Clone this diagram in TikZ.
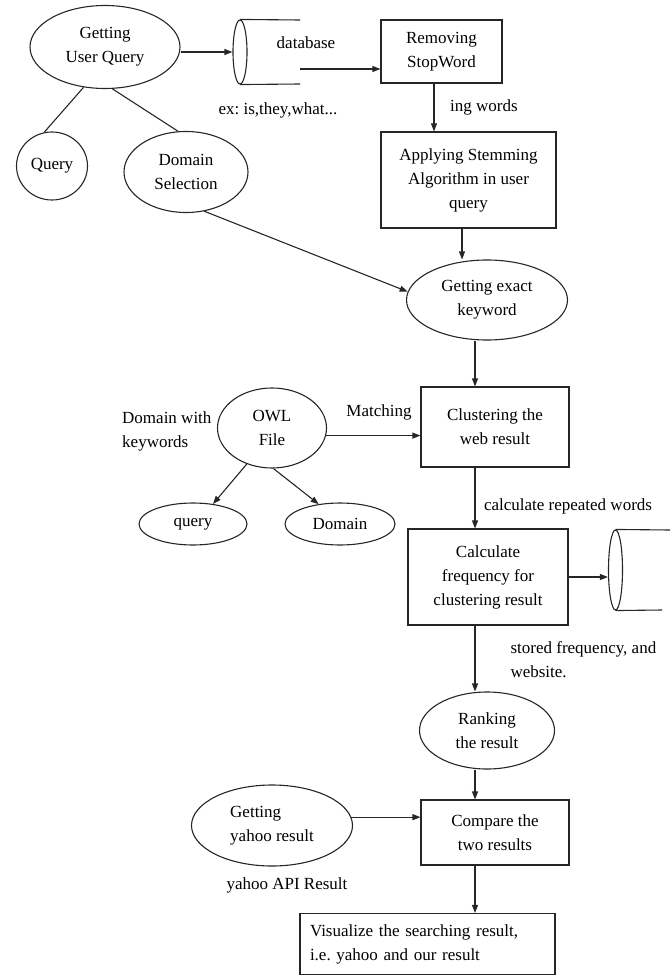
\documentclass[tikz,border=0pt]{standalone}
\usepackage{fontspec}
\setmainfont{Liberation Serif}
\usetikzlibrary{shapes.geometric,arrows.meta}
\frenchspacing
\tikzset{
  txt/.style={font=\fontsize{17}{24}\selectfont},
  ell/.style={txt, draw, ellipse, inner sep=0pt, align=center},
  box/.style={txt, draw, rectangle, inner sep=0pt, align=center},
  lbl/.style={txt, inner sep=0pt, align=left},
  arr/.style={-{Triangle[length=8pt,width=6pt]}},
}
\begin{document}
\begin{tikzpicture}[x=1pt,y=-1pt,line width=1.1pt,draw=black!85]
\useasboundingbox (0,0) rectangle (670,976);
% top row
\node[ell, minimum width=150, minimum height=83] (guq) at (105,47) {Getting\\User Query};
\node[draw, ellipse, inner sep=0pt, minimum width=14, minimum height=64] (db1) at (240,52) {};
\coordinate (db1top) at (300,20);
\coordinate (db1bot) at (300,84);
\coordinate (dbout) at (300,69);
\draw (db1.north) -- (db1top);
\draw (db1.south) -- (db1bot);
\node[lbl] (dblabel) at (306,43) {database};
\node[lbl] (exlabel) at (278,110) {ex: is,they,what...};
\node[box, minimum width=121, minimum height=63] (rsw) at (441.5,51.5) {Removing\\StopWord};
\node[lbl] (ingw) at (484,107) {ing words};
\node[box, minimum width=175, minimum height=96] (asa) at (468.5,180) {Applying Stemming\\Algorithm in user\\query};
\node[ell, minimum width=71, minimum height=68] (query1) at (52,166) {Query};
\node[ell, minimum width=124, minimum height=81] (domsel) at (186,172) {Domain\\Selection};
\node[ell, minimum width=161, minimum height=80] (gek) at (487,300) {Getting exact\\keyword};
% middle
\node[box, minimum width=148, minimum height=80] (clu) at (495,427) {Clustering the\\web result};
\node[ell, minimum width=109, minimum height=80] (owl) at (272,428) {OWL\\File};
\node[lbl, anchor=east] (dwk) at (212,431) {Domain with\\keywords};
\node[lbl] (matching) at (379,412) {Matching};
\node[ell, minimum width=108, minimum height=42] (q2) at (193,524) {query};
\node[ell, minimum width=110, minimum height=42] (dom2) at (340,524) {Domain};
\node[lbl] (crw) at (568,506) {calculate repeated words};
\node[box, minimum width=160, minimum height=96] (calc) at (488,577) {Calculate\\frequency for\\clustering result};
\node[draw, ellipse, inner sep=0pt, minimum width=14, minimum height=80] (db2) at (615.5,570) {};
\coordinate (db2top) at (670,530);
\coordinate (db2bot) at (662,610);
\draw (db2.north) -- (db2top);
\draw (db2.south) -- (db2bot);
\node[lbl, anchor=west] (stored) at (510,659.5) {stored frequency, and\\website.};
% bottom
\node[ell, minimum width=135, minimum height=77] (rank) at (487,730.5) {Ranking\\the result};
\node[box, minimum width=148, minimum height=65] (cmp) at (495,832.5) {Compare the\\two results};
\node[ell, align=left, minimum width=161, minimum height=81] (yahoo) at (272,825.5) {Getting\\yahoo result};
\node[lbl] (yapi) at (287,885) {yahoo API Result};
\node[box, align=left, text width=235, inner xsep=10, minimum height=61] (vis) at (427.5,944) {Visualize the searching result,\\i.e. yahoo and our result};
% column coordinates
\coordinate (c1) at (434,0);
\coordinate (c2) at (462,0);
\coordinate (c3) at (475,0);
% connectors
\draw[arr] (guq.east |- db1.west) -- (db1.west);
\draw[arr] (dbout) -- (dbout -| rsw.west);
\draw[arr] (rsw.south -| c1) -- (asa.north -| c1);
\draw (guq.242) -- (query1.103);
\draw (guq.280) -- (domsel.101);
\draw[arr] (asa.south -| c2) -- (gek.north -| c2);
\draw[arr] (domsel.295) -- (gek.174);
\draw[arr] (gek.south -| c3) -- (clu.north -| c3);
\draw[arr] (owl.-8) -- (owl.-8 -| clu.west);
\draw[arr] (owl.235) -- (q2.45);
\draw[arr] (owl.272) -- (dom2.137);
\draw[arr] (clu.south -| c3) -- (calc.north -| c3);
\draw[arr] (calc.east) -- (calc.east -| db2.west);
\draw[arr] (calc.south -| c3) -- (rank.north -| c3);
\draw[arr] (rank.south -| c3) -- (cmp.north -| c3);
\draw[arr] (yahoo.6) -- (yahoo.6 -| cmp.west);
\draw[arr] (cmp.south -| c3) -- (vis.north -| c3);
\end{tikzpicture}
\end{document}
